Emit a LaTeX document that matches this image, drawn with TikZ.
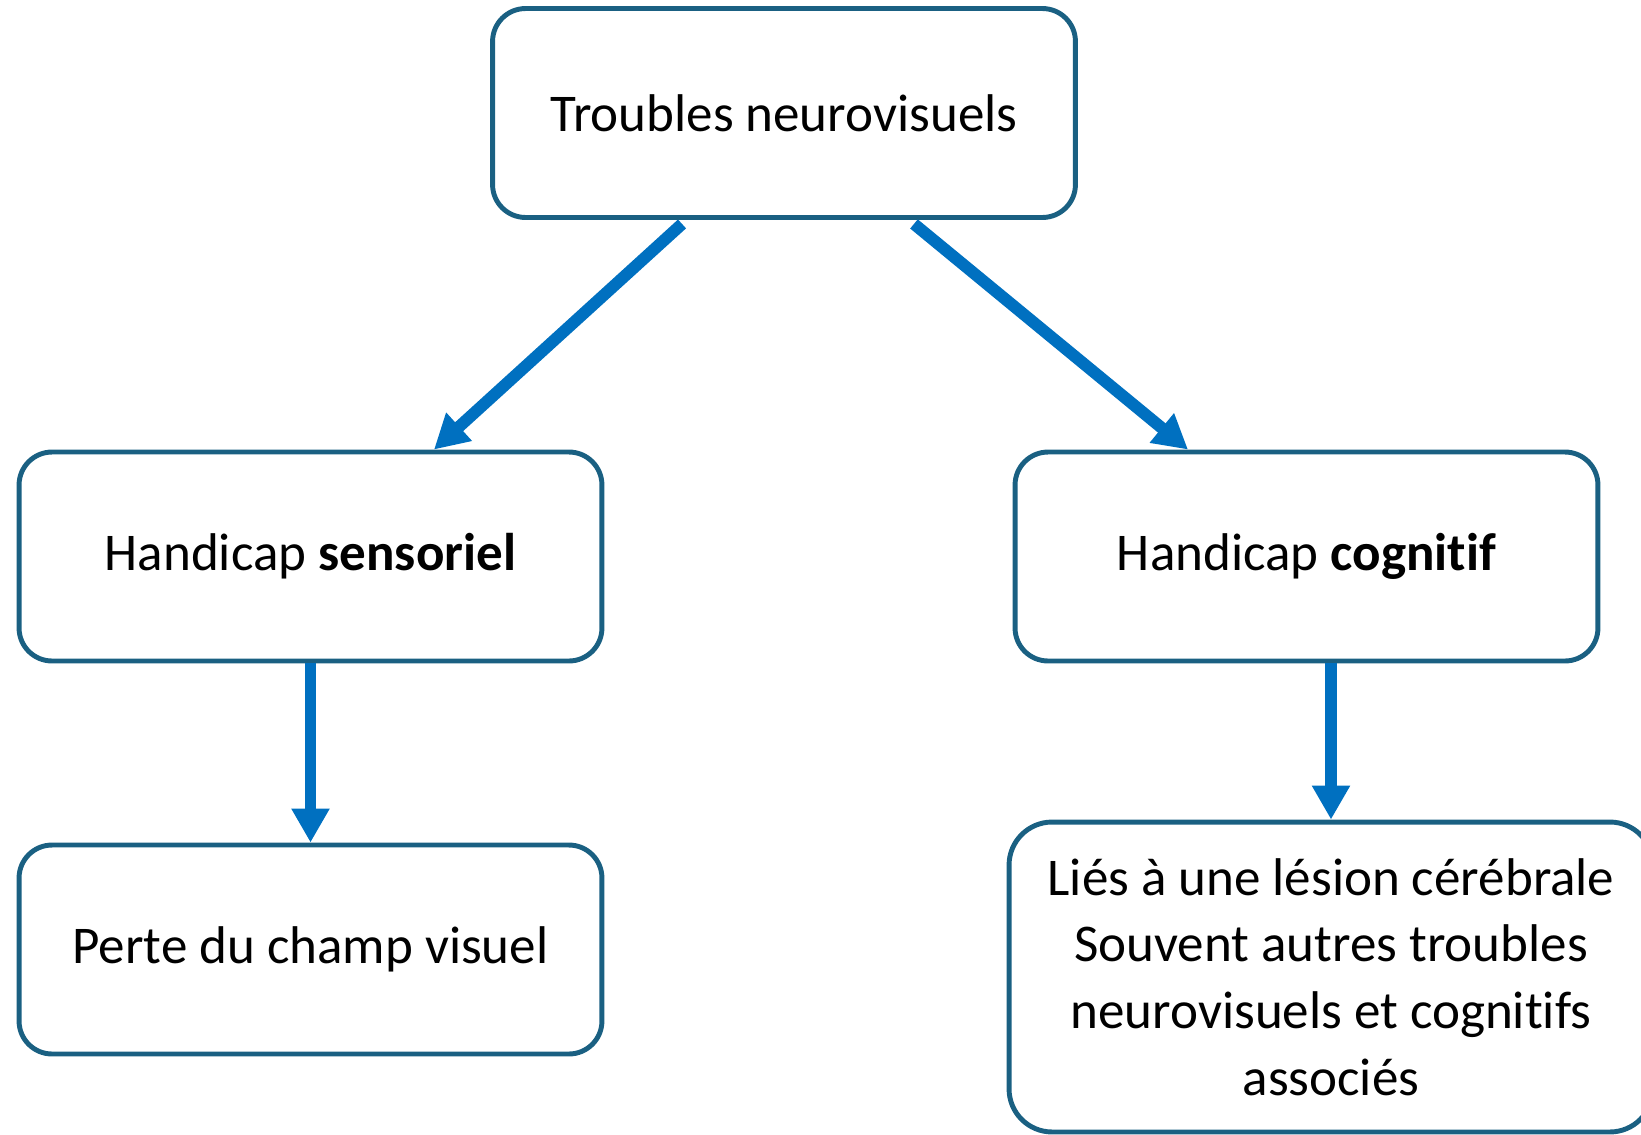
\documentclass[tikz,border=0pt]{standalone}
\usepackage{fontspec}
\setmainfont{Carlito}[Ligatures=NoCommon]
\usetikzlibrary{arrows.meta,positioning}

\definecolor{boxborder}{RGB}{26,96,130}
\definecolor{arrowblue}{RGB}{0,112,192}

\begin{document}
\begin{tikzpicture}[x=0.02cm,y=-0.02cm,
    box/.style={draw=boxborder,line width=2.8pt,rounded corners=0.66cm,
      minimum width=11.66cm,minimum height=4.18cm,align=center,
      font=\fontsize{30.2}{38}\selectfont},
    link/.style={draw=arrowblue,line width=6.8pt,
      -{Triangle[width=0.72cm,length=0.68cm]}}]
    \useasboundingbox (0,0) rectangle (1641,1134);

    \node[box] (troubles) at (784,113)    {Troubles neurovisuels};
    \node[box] (sens)     at (310.5,556.5) {Handicap \textbf{sensoriel}};
    \node[box] (cog)      at (1306.5,556.5) {Handicap \textbf{cognitif}};
    \node[box] (perte)    at (310.5,949.5) {Perte du champ visuel};
    \node[box,minimum width=12.88cm,minimum height=6.2cm,rounded corners=0.86cm]
               (lesion)   at (1331,977)   {Liés à une lésion cérébrale\\
                                           Souvent autres troubles\\
                                           neurovisuels et cognitifs\\
                                           associés};

    \draw[link] ([xshift=-2.04cm,yshift=-0.08cm]troubles.south) -- ([xshift=2.47cm]sens.north);
    \draw[link] ([xshift=2.6cm,yshift=-0.08cm]troubles.south) -- ([xshift=-2.37cm]cog.north);
    \draw[link] (sens.south) -- (perte.north);
    \draw[link] (cog.south -| lesion.north) -- (lesion.north);
\end{tikzpicture}
\end{document}
